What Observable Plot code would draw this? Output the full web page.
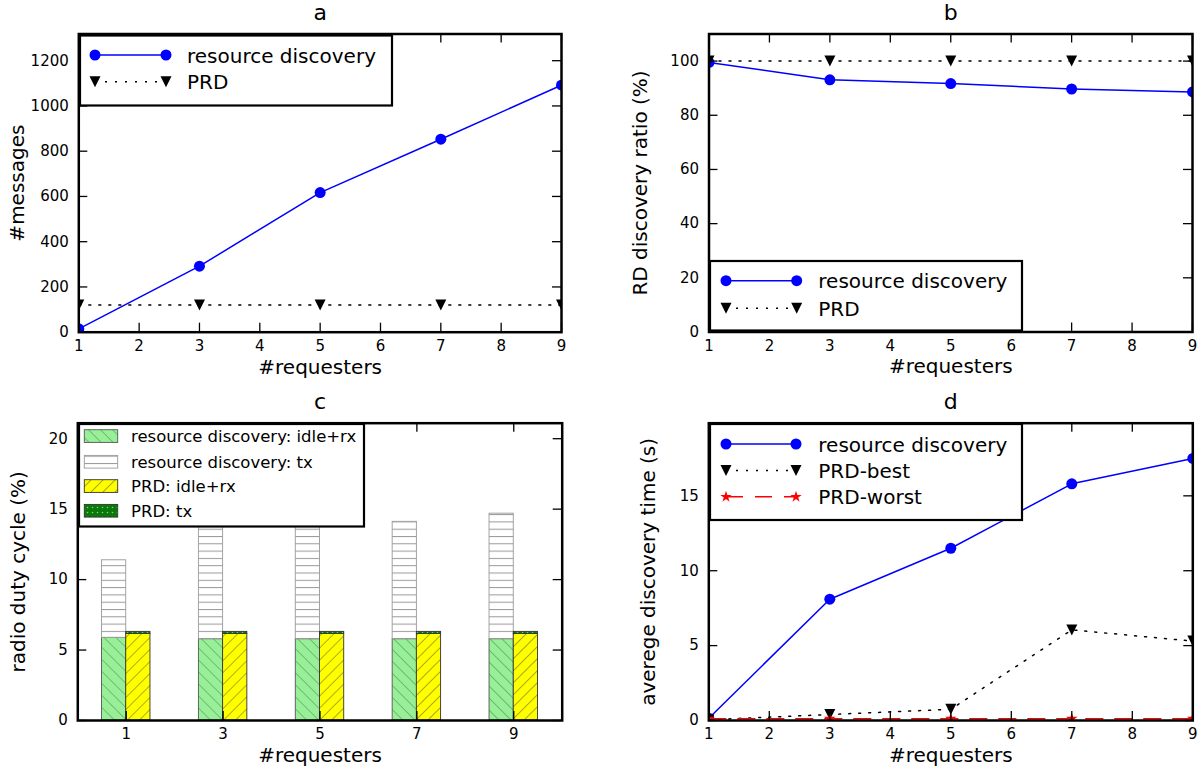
<!DOCTYPE html>
<html><head><meta charset="utf-8">
<script src="https://cdn.jsdelivr.net/npm/d3@7"></script>
<script src="https://cdn.jsdelivr.net/npm/@observablehq/plot@0.6"></script>
<style>
body{margin:0;background:#fff}
#chart{position:relative;width:1203px;height:773px;background:#fff;font-family:"DejaVu Sans"}
#chart svg{position:absolute;overflow:visible}
</style>
</head><body><div id="chart"></div>
<script>
// ---------- data ----------
const requesters = [1, 3, 5, 7, 9];
const xTicksAll = [1, 2, 3, 4, 5, 6, 7, 8, 9];

const msgTicks = [0, 200, 400, 600, 800, 1000, 1200];
const msgRD = [15, 292, 617, 853, 1092];
const msgPRD = [120, 120, 120, 120, 120];

const ratioTicks = [0, 20, 40, 60, 80, 100];
const ratioRD = [99.5, 93.1, 91.7, 89.7, 88.6];
const ratioPRD = [100, 100, 100, 100, 100];

const dutyTicks = [0, 5, 10, 15, 20];
const dutyRDIdle = [5.87, 5.77, 5.77, 5.77, 5.77];
const dutyRDTx = [5.5, 8.13, 8.13, 8.33, 8.91];
const dutyPRDIdle = [6.15, 6.15, 6.15, 6.15, 6.15];
const dutyPRDTx = [0.14, 0.14, 0.14, 0.14, 0.14];

const timeTicks = [0, 5, 10, 15];
const timeRD = [0.15, 8.1, 11.5, 15.8, 17.5];
const timePRDBest = [0.05, 0.4, 0.75, 6.05, 5.3];
const timePRDWorst = [0.12, 0.12, 0.12, 0.12, 0.12];

const labels = {
  titles: ["a", "b", "c", "d"],
  x: "#requesters",
  ya: "#messages", yb: "RD discovery ratio (%)", yc: "radio duty cycle (%)", yd: "averege discovery time (s)",
  rd: "resource discovery", prd: "PRD", best: "PRD-best", worst: "PRD-worst",
  c: ["resource discovery: idle+rx", "resource discovery: tx", "PRD: idle+rx", "PRD: tx"]
};

// ---------- helpers ----------
const rows = (xs, ys) => xs.map((x, i) => ({x, y: ys[i]}));
const triDown = {draw(ctx, size) { const r = Math.sqrt(size / Math.PI); ctx.moveTo(-r, -r); ctx.lineTo(r, -r); ctx.lineTo(0, r); ctx.closePath(); }};
const BLUE = "#0000ff";
const DOT = "2,8";
const DASH = "17,12";

function panel(o) {
  const fw = o.w - o.ml - o.mr, fh = o.h - o.mt - o.mb, T = 9;
  const svg = Plot.plot({
    width: o.w, height: o.h,
    marginLeft: o.ml, marginRight: o.mr, marginTop: o.mt, marginBottom: o.mb,
    style: {fontFamily: "DejaVu Sans", background: "transparent", overflow: "visible", color: "black"},
    x: {type: "linear", domain: o.xDomain},
    y: {type: "linear", domain: o.yDomain},
    marks: [
      ...o.marks,
      Plot.tickY(o.yTicks, {y: d => d, stroke: "black", strokeWidth: 1.3, insetRight: fw - T}),
      Plot.tickY(o.yTicks, {y: d => d, stroke: "black", strokeWidth: 1.3, insetLeft: fw - T}),
      Plot.tickX(o.xTicks, {x: d => d, stroke: "black", strokeWidth: 1.3, insetTop: fh - T}),
      Plot.tickX(o.xTicks, {x: d => d, stroke: "black", strokeWidth: 1.3, insetBottom: fh - T}),
      Plot.axisY({ticks: o.yTicks, tickSize: 0, tickPadding: 10, fontSize: 15, label: null, tickFormat: d => String(d)}),
      Plot.axisX({ticks: o.xTicks, tickSize: 0, tickPadding: 8, fontSize: 15, label: null, tickFormat: d => String(d)}),
      Plot.frame({stroke: "black", strokeWidth: 2.5}),
      Plot.text([o.title], {text: d => d, frameAnchor: "top", dy: -21, fontSize: 22, lineAnchor: "middle"}),
      Plot.text([labels.x], {text: d => d, frameAnchor: "bottom", dy: 35, fontSize: 20, lineAnchor: "middle"}),
      Plot.text([o.yLabel], {text: d => d, frameAnchor: "left", rotate: -90, dx: o.yLabelDx, fontSize: 20, textAnchor: "middle", lineAnchor: "middle"})
    ]
  });
  svg.style.left = o.left + "px";
  svg.style.top = o.top + "px";
  document.getElementById("chart").appendChild(svg);
  return svg;
}

function lineLegend(svg, box, entries) {
  const g = d3.select(svg).append("g").attr("text-anchor", "start");
  g.append("rect").attr("x", box.x).attr("y", box.y).attr("width", box.w).attr("height", box.h)
    .attr("fill", "white").attr("stroke", "black").attr("stroke-width", 2.2);
  entries.forEach((e, i) => {
    const y = box.row0 + i * box.step;
    g.append("line").attr("x1", box.m1).attr("x2", box.m2).attr("y1", y).attr("y2", y)
      .attr("stroke", e.color).attr("stroke-width", 1.5).attr("stroke-dasharray", e.dash || null);
    [box.m1, box.m2].forEach(mx => g.append("path").attr("d", d3.symbol(e.symbol, Math.PI * e.r * e.r)())
      .attr("transform", `translate(${mx},${y})`).attr("fill", e.color));
    g.append("text").attr("x", box.tx).attr("y", y).attr("dy", "0.38em").attr("font-size", box.fs)
      .attr("text-anchor", "start").attr("font-family", "DejaVu Sans").attr("fill", "black").text(e.label);
  });
}

// ---------- panel a ----------
const svgA = panel({
  left: 0, top: 0, w: 600, h: 390, ml: 78.3, mr: 39, mt: 33.5, mb: 58.3,
  xDomain: [1, 9], yDomain: [0, 1318], xTicks: xTicksAll, yTicks: msgTicks,
  title: labels.titles[0], yLabel: labels.ya, yLabelDx: -61,
  marks: [
    Plot.line(rows(requesters, msgRD), {x: "x", y: "y", stroke: BLUE, strokeWidth: 1.5, clip: true}),
    Plot.dot(rows(requesters, msgRD), {x: "x", y: "y", r: 5.5, fill: BLUE, stroke: "none", clip: true}),
    Plot.line(rows(requesters, msgPRD), {x: "x", y: "y", stroke: "black", strokeWidth: 1.5, strokeDasharray: DOT, clip: true}),
    Plot.dot(rows(requesters, msgPRD), {x: "x", y: "y", r: 5.5, symbol: triDown, fill: "black", stroke: "none", clip: true})
  ]
});
lineLegend(svgA, {x: 80, y: 35.5, w: 312, h: 70, m1: 95, m2: 166, tx: 187, row0: 55, step: 26.7, fs: 20}, [
  {color: BLUE, symbol: d3.symbolCircle, r: 5.5, label: labels.rd},
  {color: "black", symbol: triDown, r: 5.5, dash: DOT, label: labels.prd}
]);

// ---------- panel b ----------
const svgB = panel({
  left: 600, top: 0, w: 603, h: 390, ml: 108.5, mr: 11, mt: 33.5, mb: 58.5,
  xDomain: [1, 9], yDomain: [0, 110], xTicks: xTicksAll, yTicks: ratioTicks,
  title: labels.titles[1], yLabel: labels.yb, yLabelDx: -68.5,
  marks: [
    Plot.line(rows(requesters, ratioRD), {x: "x", y: "y", stroke: BLUE, strokeWidth: 1.5, clip: true}),
    Plot.dot(rows(requesters, ratioRD), {x: "x", y: "y", r: 5.5, fill: BLUE, stroke: "none", clip: true}),
    Plot.line(rows(requesters, ratioPRD), {x: "x", y: "y", stroke: "black", strokeWidth: 1.5, strokeDasharray: DOT, clip: true}),
    Plot.dot(rows(requesters, ratioPRD), {x: "x", y: "y", r: 5.5, symbol: triDown, fill: "black", stroke: "none", clip: true})
  ]
});
lineLegend(svgB, {x: 110, y: 261, w: 312, h: 69.5, m1: 126, m2: 196.7, tx: 218.3, row0: 280.7, step: 27.6, fs: 20}, [
  {color: BLUE, symbol: d3.symbolCircle, r: 5.5, label: labels.rd},
  {color: "black", symbol: triDown, r: 5.5, dash: DOT, label: labels.prd}
]);

// ---------- panel c ----------
const barRows = [];
requesters.forEach((n, i) => {
  barRows.push({s: 0, n, x1: n - 0.5, x2: n, y1: 0, y2: dutyRDIdle[i]});
  barRows.push({s: 1, n, x1: n - 0.5, x2: n, y1: dutyRDIdle[i], y2: dutyRDIdle[i] + dutyRDTx[i]});
  barRows.push({s: 2, n, x1: n, x2: n + 0.5, y1: 0, y2: dutyPRDIdle[i]});
  barRows.push({s: 3, n, x1: n, x2: n + 0.5, y1: dutyPRDIdle[i], y2: dutyPRDIdle[i] + dutyPRDTx[i]});
});
const barStyle = [
  {fill: "url(#patGreen)", stroke: "#555"},
  {fill: "url(#patHoriz)", stroke: "#999"},
  {fill: "url(#patYellow)", stroke: "#333"},
  {fill: "url(#patDots)", stroke: "#333"}
];
const svgC = panel({
  left: 0, top: 390, w: 600, h: 383, ml: 77.3, mr: 38.3, mt: 32.7, mb: 53,
  xDomain: [0, 10], yDomain: [0, 21.1], xTicks: requesters, yTicks: dutyTicks,
  title: labels.titles[2], yLabel: labels.yc, yLabelDx: -59,
  marks: barStyle.map((st, s) => Plot.rect(barRows.filter(d => d.s === s),
    {x1: "x1", x2: "x2", y1: "y1", y2: "y2", fill: st.fill, stroke: st.stroke, strokeWidth: 0.9}))
});
{
  const defs = d3.select(svgC).insert("defs", ":first-child");
  const hatch = (id, bg, angle, size, color, w) => {
    const p = defs.append("pattern").attr("id", id).attr("patternUnits", "userSpaceOnUse")
      .attr("width", size).attr("height", size).attr("patternTransform", `rotate(${angle})`);
    p.append("rect").attr("width", size).attr("height", size).attr("fill", bg);
    p.append("line").attr("x1", 0).attr("y1", -1).attr("x2", 0).attr("y2", size + 1).attr("stroke", color).attr("stroke-width", w);
  };
  hatch("patGreen", "#97f097", -45, 8.5, "#3a6a3a", 0.8);
  hatch("patYellow", "#ffff00", 45, 8.5, "#333", 0.8);
  const ph = defs.append("pattern").attr("id", "patHoriz").attr("patternUnits", "userSpaceOnUse").attr("width", 10).attr("height", 7.3);
  ph.append("rect").attr("width", 10).attr("height", 7.3).attr("fill", "white");
  ph.append("line").attr("x1", -1).attr("x2", 11).attr("y1", 0.5).attr("y2", 0.5).attr("stroke", "#999").attr("stroke-width", 1);
  const pd = defs.append("pattern").attr("id", "patDots").attr("patternUnits", "userSpaceOnUse").attr("width", 5).attr("height", 5);
  pd.append("rect").attr("width", 5).attr("height", 5).attr("fill", "#0a780a");
  pd.append("circle").attr("cx", 2.5).attr("cy", 2.5).attr("r", 0.8).attr("fill", "#7fd07f");

  const g = d3.select(svgC).append("g").attr("text-anchor", "start");
  g.append("rect").attr("x", 79).attr("y", 34).attr("width", 285).attr("height", 102.5)
    .attr("fill", "white").attr("stroke", "black").attr("stroke-width", 2.2);
  [46, 71.7, 96, 120.7].forEach((y, i) => {
    g.append("rect").attr("x", 84.3).attr("y", y - 6.3).attr("width", 33.4).attr("height", 12.7)
      .attr("fill", barStyle[i].fill).attr("stroke", barStyle[i].stroke).attr("stroke-width", 0.9);
    g.append("text").attr("x", 131).attr("y", y).attr("dy", "0.38em").attr("font-size", 16.5)
      .attr("text-anchor", "start").attr("font-family", "DejaVu Sans").attr("fill", "black").text(labels.c[i]);
  });
}

// ---------- panel d ----------
const svgD = panel({
  left: 600, top: 390, w: 603, h: 383, ml: 108.3, mr: 10.7, mt: 32.7, mb: 53,
  xDomain: [1, 9], yDomain: [0, 19.85], xTicks: xTicksAll, yTicks: timeTicks,
  title: labels.titles[3], yLabel: labels.yd, yLabelDx: -60.5,
  marks: [
    Plot.line(rows(requesters, timeRD), {x: "x", y: "y", stroke: BLUE, strokeWidth: 1.5, clip: true}),
    Plot.dot(rows(requesters, timeRD), {x: "x", y: "y", r: 5.5, fill: BLUE, stroke: "none", clip: true}),
    Plot.line(rows(requesters, timePRDBest), {x: "x", y: "y", stroke: "black", strokeWidth: 1.5, strokeDasharray: DOT, clip: true}),
    Plot.dot(rows(requesters, timePRDBest), {x: "x", y: "y", r: 5.5, symbol: triDown, fill: "black", stroke: "none", clip: true}),
    Plot.line(rows(requesters, timePRDWorst), {x: "x", y: "y", stroke: "#ff0000", strokeWidth: 1.5, strokeDasharray: DASH, clip: true}),
    Plot.dot(rows(requesters, timePRDWorst), {x: "x", y: "y", r: 3.6, symbol: "star", fill: "#ff0000", stroke: "none", clip: true})
  ]
});
lineLegend(svgD, {x: 110, y: 34, w: 312, h: 96, m1: 126, m2: 196, tx: 218.3, row0: 54, step: 26.4, fs: 20}, [
  {color: BLUE, symbol: d3.symbolCircle, r: 5.5, label: labels.rd},
  {color: "black", symbol: triDown, r: 5.5, dash: DOT, label: labels.best},
  {color: "#ff0000", symbol: d3.symbolStar, r: 3.6, dash: DASH, label: labels.worst}
]);
</script>
</body></html>
